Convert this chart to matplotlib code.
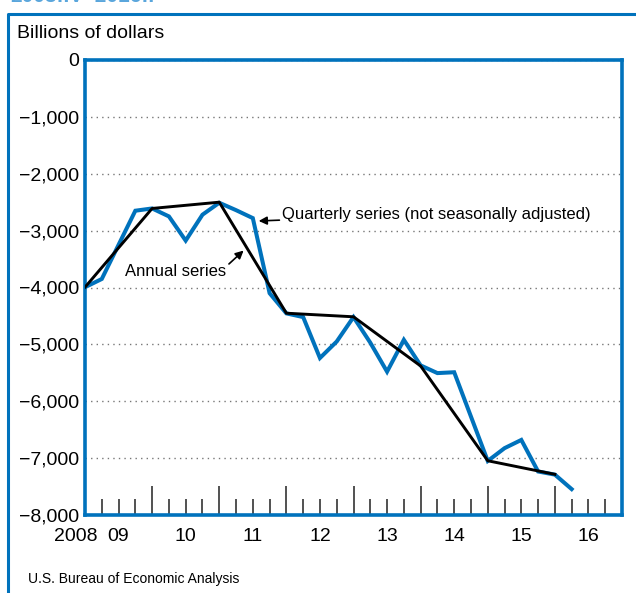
import matplotlib
matplotlib.use("Agg")
import matplotlib.pyplot as plt
from matplotlib.lines import Line2D
from matplotlib.ticker import FuncFormatter, MultipleLocator

plt.rcParams['font.family'] = ['Liberation Sans', 'DejaVu Sans']

BLUE = '#0072BC'

# quarterly net international investment position, 2008:IV - 2016:I
quarters = list(range(30))  # 0 = 2008:IV
quarterly_values = [-3995, -3850, -3250, -2650, -2610, -2750, -3175, -2720,
                    -2510, -2640, -2780, -4100, -4455, -4520, -5240, -4950,
                    -4520, -4970, -5480, -4920, -5370, -5505, -5490, -6270,
                    -7050, -6825, -6680, -7235, -7290, -7545]

# year-end annual series, 2008 - 2015
annual_pos = [0, 4, 8, 12, 16, 20, 24, 28]
annual_values = [-3995, -2610, -2500, -4452, -4515, -5380, -7046, -7285]

year_labels = ['2008', '09', '10', '11', '12', '13', '14', '15', '16']
year_label_pos = [-0.55, 2, 6, 10, 14, 18, 22, 26, 30]

fig = plt.figure(figsize=(6.36, 5.93), dpi=100)
ax = fig.add_axes([85 / 636, 1 - 515 / 593, 537 / 636, 455 / 593])

ax.plot(quarters, quarterly_values, color=BLUE, lw=2.9, solid_joinstyle='miter', zorder=3)
ax.plot(annual_pos, annual_values, color='black', lw=2.1, zorder=4)

ax.set_xlim(0, 32)
ax.set_ylim(-8000, 0)

ax.yaxis.set_major_locator(MultipleLocator(1000))
ax.yaxis.set_major_formatter(FuncFormatter(
    lambda v, p: '0' if v == 0 else '\u2212{:,.0f}'.format(abs(v))))
ax.tick_params(axis='y', length=0, pad=4, labelsize=14)
ax.yaxis.grid(True, color='#777777', linestyle=(0, (1, 3)), lw=1)

ax.set_xticks([4, 8, 12, 16, 20, 24, 28])
ax.set_xticks([k for k in range(1, 32) if k % 4], minor=True)
ax.tick_params(axis='x', which='major', direction='in', length=21, width=1.1,
               color='#222222', labelbottom=False)
ax.tick_params(axis='x', which='minor', direction='in', length=11.5, width=1.1,
               color='#222222', labelbottom=False)

for sp in ax.spines.values():
    sp.set_color(BLUE)
    sp.set_linewidth(2.6)

# year labels sit under the middle of each year
for lbl, pos in zip(year_labels, year_label_pos):
    ax.text(pos, -8230, lbl, ha='center', va='top', fontsize=14, clip_on=False)

ax.annotate('Quarterly series (not seasonally adjusted)', xy=(10.35, -2830),
            xytext=(11.75, -2710), fontsize=12, va='center', ha='left',
            arrowprops=dict(arrowstyle='-|>', color='black', lw=1.2,
                            mutation_scale=12, shrinkA=0, shrinkB=0))
ax.annotate('Annual series', xy=(9.45, -3350), xytext=(5.4, -3710),
            fontsize=12, va='center', ha='center',
            arrowprops=dict(arrowstyle='-|>', color='black', lw=1.2,
                            mutation_scale=12, shrinkA=0, shrinkB=0,
                            relpos=(1, 0.8)))

fig.text(17 / 636, 1 - 38 / 593, 'Billions of dollars', fontsize=14, va='baseline')
fig.text(28 / 636, 1 - 583 / 593, 'U.S. Bureau of Economic Analysis', fontsize=10,
         va='baseline')
# title mostly cropped off at the top, as in the source image
fig.text(10 / 636, 1 - 2.5 / 593, '2008:IV\u20132016:I', fontsize=15, fontweight='bold',
         color='#5AA6DC', va='baseline')

fig.add_artist(Line2D([8 / 636, 8 / 636, 1.0], [0, 1 - 14 / 593, 1 - 14 / 593],
                      transform=fig.transFigure, color=BLUE, lw=2.2))

fig.savefig('out.png', dpi=100)
